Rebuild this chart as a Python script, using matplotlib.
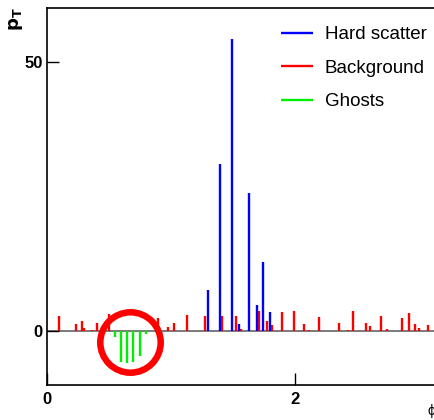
import matplotlib
matplotlib.use('Agg')
import matplotlib.pyplot as plt

plt.rcParams['font.family'] = ['Liberation Sans', 'DejaVu Sans']

# Hard scatter particles: phi, pT
hs_phi = [1.297, 1.396, 1.496, 1.547, 1.628, 1.695, 1.746, 1.797]
hs_pt = [7.7, 31.0, 54.3, 1.4, 25.7, 4.8, 12.9, 3.6]

# Background particles: phi, pT
bg_phi = [0.099, 0.236, 0.282, 0.299, 0.367, 0.406, 0.503, 0.896, 0.974,
          1.025, 1.128, 1.275, 1.416, 1.524, 1.564, 1.715, 1.774, 1.816,
          1.897, 1.995, 2.076, 2.115, 2.195, 2.355, 2.427, 2.475, 2.575,
          2.605, 2.694, 2.744, 2.864, 2.923, 2.976, 3.005, 3.073]
bg_pt = [2.8, 1.4, 1.85, 0.5, 0.3, 1.6, 3.2, 2.4, 0.85,
         1.6, 3.05, 2.85, 2.9, 2.9, 0.45, 3.8, 1.9, 1.1,
         3.6, 3.8, 1.4, 0.3, 2.6, 1.6, 0.25, 3.8, 1.5,
         0.9, 2.9, 0.45, 2.35, 3.3, 1.4, 0.5, 1.2]

# Ghost particles (drawn downwards)
gh_phi = [0.546, 0.597, 0.643, 0.692, 0.748, 0.797]
gh_pt = [-1.1, -5.7, -5.9, -5.8, -4.6, -0.5]

# circled region
ring_phi, ring_pt = 0.67, -2.1

W, H = 435, 420
fig = plt.figure(figsize=(W / 100, H / 100), dpi=100)
ax = fig.add_axes([47 / W, 1 - 385 / H, 389 / W, 377 / H])
ax.set_xlim(0, 3.14159)
ax.set_ylim(-10, 60)

ax.axhline(0, color='#7a7a7a', lw=1.4, zorder=1)
ax.vlines(bg_phi, 0, bg_pt, color='#ff0000', lw=1.7, zorder=2, label='Background')
ax.vlines(hs_phi, 0, hs_pt, color='#0000ff', lw=1.7, zorder=3, label='Hard scatter')
ax.vlines(gh_phi, 0, gh_pt, color='#00ee00', lw=1.7, zorder=2, label='Ghosts')
ax.plot([ring_phi], [ring_pt], 'o', ms=43.5, mfc='none', mec='#ff0000',
        mew=4.7, zorder=4)

handles, labels = ax.get_legend_handles_labels()
order = [1, 0, 2]
ax.legend([handles[i] for i in order], [labels[i] for i in order],
          loc='upper left', bbox_to_anchor=(281 / W, 1 - 26 / H),
          bbox_transform=fig.transFigure, frameon=False, fontsize=13.5,
          handlelength=1.7, handletextpad=0.64, labelspacing=0.88,
          borderpad=0, borderaxespad=0)

ax.set_xticks([0, 2])
ax.set_yticks([0, 50])
ax.set_xticklabels(['0', '2'], fontweight='bold', fontsize=12)
ax.set_yticklabels(['0', '50'], fontweight='bold', fontsize=12)
ax.tick_params(direction='in', length=8.5, width=1, pad=3)
ax.tick_params(axis='x', pad=5)
for s in ax.spines.values():
    s.set_linewidth(1.2)

fig.text(16 / W, 1 - 7 / H, r'$\mathbf{p}_\mathbf{T}$', rotation=90,
         ha='center', va='top', fontsize=13)
fig.text(431 / W, 1 - 411 / H, 'ϕ', ha='center', va='center', fontsize=10)

fig.savefig('out.png', dpi=100)
